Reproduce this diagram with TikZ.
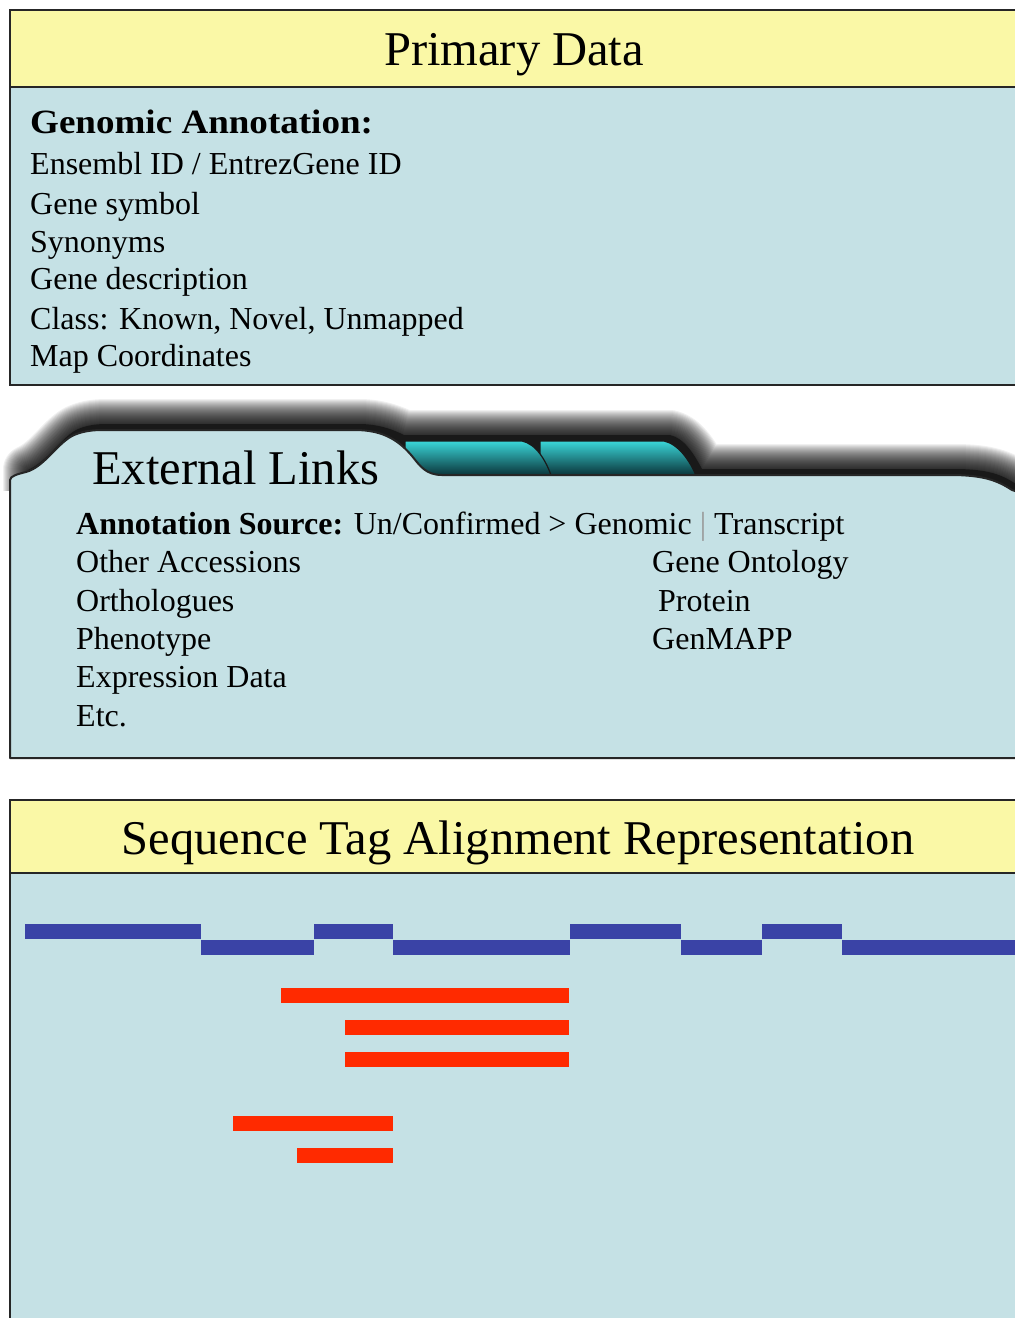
\documentclass[tikz,border=0pt]{standalone}
\usepackage{fontspec}
\setmainfont{Liberation Serif}
\definecolor{hdr}{HTML}{FAF8A6}
\definecolor{panel}{HTML}{C5E1E5}
\definecolor{exon}{HTML}{3A43A6}
\definecolor{tagred}{HTML}{FF2A00}
\definecolor{tabtop}{HTML}{3AD6D8}
\definecolor{tabbot}{HTML}{06262C}

% outline of the folder card
\def\folderpath{(10,758) -- (10,480) .. controls (10,476) and (18,474) .. (26,472)
  .. controls (44,467) and (56,445) .. (72,436) .. controls (80,432) and (90,430) .. (102,430)
  -- (355,430) .. controls (385,430) and (400,442) .. (412,456)
  .. controls (420,466) and (426,475) .. (442,475) -- (950,475)
  .. controls (985,475) and (998,481) .. (1012,490) -- (1030,496) -- (1030,758) -- cycle}
% outline of card plus the tabs behind it, used for the drop shadow
\def\shadowpath{(24,500) -- (24,476) .. controls (44,467) and (56,445) .. (72,436)
  .. controls (80,432) and (90,430) .. (102,430) -- (355,430)
  .. controls (375,430) and (390,436) .. (400,441) -- (666,441)
  .. controls (680,444) and (690,460) .. (698,475) -- (950,475)
  .. controls (985,475) and (998,481) .. (1012,490) -- (1030,496) -- (1030,500) -- cycle}

\begin{document}
\begin{tikzpicture}[x=1pt,y=-1pt,
  frame/.style={draw=black!85, line width=2pt},
  ttl/.style={font=\fontsize{48.5}{52}\selectfont, inner sep=0pt, anchor=base},
  txt/.style={font=\fontsize{32}{38}\selectfont, inner sep=0pt, anchor=base west},
  tabshade/.style={top color=tabtop, bottom color=tabbot, draw=black!90, line width=1.2pt},
  exonbar/.style={fill=exon},
  tagbar/.style={fill=tagred}]
\useasboundingbox (0,0) rectangle (1015,1318);
\fill[white] (0,0) rectangle (1015,1318);
\begin{scope}
\clip (0,0) rectangle (1015,1318);

% ---------- Primary Data ----------
\fill[hdr] (10,10) rectangle (1030,87);
\fill[panel] (10,87) rectangle (1030,385);
\draw[frame] (10,10) rectangle (1030,385);
\draw[frame] (10,87) -- (1030,87);
\node[ttl] (pdtitle) at (514,65) {Primary Data};
\node[txt] (ga) at (30,133) {\scalebox{1.09}[1]{\fontsize{34}{38}\selectfont\bfseries Genomic Annotation:}};
\node[txt] (ids) at (30,174) {Ensembl ID / EntrezGene ID};
\node[txt] (sym) at (30,214) {Gene symbol};
\node[txt] (syn) at (30,252) {Synonyms};
\node[txt] (desc) at (30,289) {Gene description};
\node[txt] (cls) at (30,329) {Class: Known, Novel, Unmapped};
\node[txt] (map) at (30,366) {Map Coordinates};

% ---------- External Links folder ----------
\begin{scope}
\clip (0,380) rectangle (1015,490);
\begin{scope}[shift={(4,-6)}]
\foreach \w in {2,4,...,50}
  \draw[black, opacity=0.06, line width=\w pt, line join=round] \shadowpath;
\fill[black!90] \shadowpath;
\end{scope}
\end{scope}
% tabs behind the card
\draw[tabshade] (540,478) -- (540,441) -- (664,441)
  .. controls (678,444) and (690,460) .. (697,478) -- cycle;
\draw[tabshade] (405,478) -- (405,441) -- (522,441)
  .. controls (536,444) and (546,460) .. (552,478) -- cycle;
\fill[panel] \folderpath;
\draw[black!85, line width=2pt, line join=round] \folderpath;
\node[ttl, anchor=base west] (eltitle) at (92,484) {External Links};
\node[txt] (src) at (76,534) {\textbf{Annotation Source:} Un/Confirmed {>} Genomic {\color{black!40}|} Transcript};
\node[txt] (acc) at (76,572) {Other Accessions};
\node[txt] (orth) at (76,611) {Orthologues};
\node[txt] (phen) at (76,649) {Phenotype};
\node[txt] (expr) at (76,687) {Expression Data};
\node[txt] (etc) at (76,726) {Etc.};
\node[txt] (go) at (652,572) {Gene Ontology};
\node[txt] (prot) at (658,611) {Protein};
\node[txt] (gm) at (652,649) {GenMAPP};

% ---------- Sequence Tag Alignment ----------
\fill[hdr] (10,800) rectangle (1030,873);
\fill[panel] (10,873) rectangle (1030,1340);
\draw[frame] (10,800) rectangle (1030,1340);
\draw[frame] (10,873) -- (1030,873);
\node[ttl] (sqtitle) at (518,854) {Sequence Tag Alignment Representation};

% gene model: alternating exon blocks
\fill[exonbar] (25,924) rectangle (201,939);
\fill[exonbar] (201,940) rectangle (314,955);
\fill[exonbar] (314,924) rectangle (393,939);
\fill[exonbar] (393,940) rectangle (570,955);
\fill[exonbar] (570,924) rectangle (681,939);
\fill[exonbar] (681,940) rectangle (762,955);
\fill[exonbar] (762,924) rectangle (842,939);
\fill[exonbar] (842,940) rectangle (1030,955);

% aligned sequence tags
\fill[tagbar] (281,988) rectangle (569,1003);
\fill[tagbar] (345,1020) rectangle (569,1035);
\fill[tagbar] (345,1052) rectangle (569,1067);
\fill[tagbar] (233,1116) rectangle (393,1131);
\fill[tagbar] (297,1148) rectangle (393,1163);
\end{scope}
\end{tikzpicture}
\end{document}
